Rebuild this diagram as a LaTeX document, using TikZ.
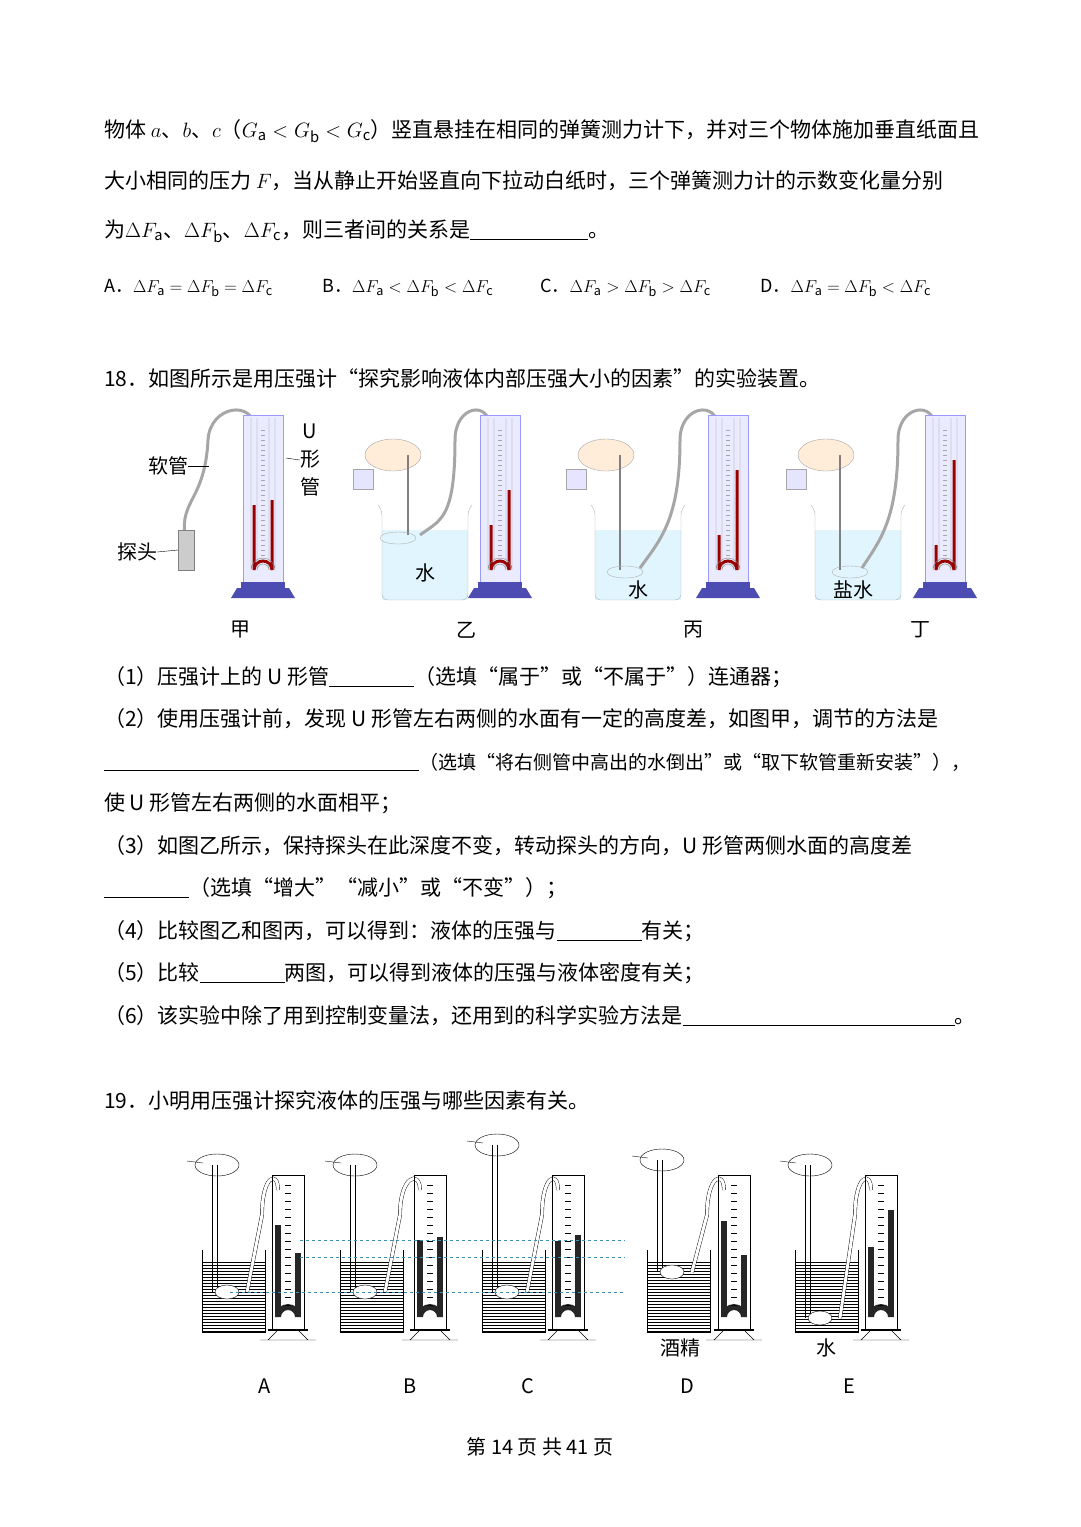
\documentclass[tikz,border=0pt]{standalone}
\usepackage{fontspec}
\setmainfont{Noto Sans CJK SC}
\usepackage{tikz}
\usetikzlibrary{patterns}

\tikzset{
  txt/.style={anchor=west,inner sep=0pt,font=\fontsize{21}{24}\selectfont},
  opt/.style={anchor=west,inner sep=0pt,font=\fontsize{18}{22}\selectfont},
  lab/.style={inner sep=0pt,font=\fontsize{20}{24}\selectfont},
  hose/.style={line width=3pt,gray!70},
  pics/utube/.style 2 args={code={
    \fill[blue!8] (-20,-165) rectangle (20,2);
    \draw[blue!40] (-20,-165) rectangle (20,2);
    \foreach \t in {-150,-145,...,-20} \draw[gray!70] (-2,\t) -- (2,\t);
    \draw[red!60!black,line width=3pt] (-9,#1) -- (-9,-10) arc (180:360:9) -- (9,#2);
    \draw[gray] (-12,-162) -- (-12,-10) arc (180:360:12) -- (12,-162);
    \draw[gray] (-6,-162) -- (-6,-10) arc (180:360:6) -- (6,-162);
    \fill[blue!40!gray] (-22,2) rectangle (22,8);
    \fill[gray!60!blue] (-26,8) -- (26,8) -- (32,18) -- (-32,18) -- cycle;
  }},
  pics/beaker/.style={code={
    \fill[cyan!12] (0,25) rectangle (86,95);
    \draw[gray!60,rounded corners=6pt] (-4,0) -- (0,4) -- (0,95) -- (86,95) -- (86,4) -- (90,0);
  }},
  pics/hand/.style={code={
    \fill[orange!15] (0,0) ellipse (28 and 16);
    \draw[gray!70] (0,0) ellipse (28 and 16);
    \fill[blue!10] (-40,14) rectangle (-20,34);
    \draw[gray!70] (-40,14) rectangle (-20,34);
  }},
  pics/dtube/.style 2 args={code={
    \fill[black!85] (-13,#1) rectangle (-7,-8);
    \fill[black!85] (7,#2) rectangle (13,-8);
    \fill[black!85] (-13,-8) arc (180:360:13) -- (7,-8) arc (0:-180:7) -- cycle;
    \draw[black] (-16,-150) rectangle (16,5);
    \foreach \t in {-140,-132,...,-20} \draw (-3,\t) -- (3,\t);
    \draw[line width=2pt] (-20,5) -- (20,5);
    \draw (-10,5) -- (-20,15) (10,5) -- (20,15) (-28,15) -- (28,15);
  }},
  pics/dbeaker/.style={code={
    \fill[pattern=horizontal lines] (0,12) rectangle (63,82);
    \draw (0,0) -- (0,82) -- (63,82) -- (63,0);
  }},
  pics/dhand/.style={code={
    \draw[fill=white] (0,0) ellipse (22 and 11);
    \draw (-30,-4) -- (-14,-2);
  }}
}

\begin{document}
\begin{tikzpicture}[x=1pt,y=-1pt]
\useasboundingbox (0,0) rectangle (1080,1527);

% question 17 end
\node[txt] (l1) at (104,131) {物体 $a$、$b$、$c$（$G_\mathrm{a}<G_\mathrm{b}<G_\mathrm{c}$）竖直悬挂在相同的弹簧测力计下，并对三个物体施加垂直纸面且};
\node[txt] (l2) at (104,181) {大小相同的压力 $F$，当从静止开始竖直向下拉动白纸时，三个弹簧测力计的示数变化量分别};
\node[txt] (l3) at (104,231) {为$\Delta F_\mathrm{a}$、$\Delta F_\mathrm{b}$、$\Delta F_\mathrm{c}$，则三者间的关系是\underline{\hspace{118pt}}。};
\node[opt] (oa) at (104,288) {A．$\Delta F_\mathrm{a}=\Delta F_\mathrm{b}=\Delta F_\mathrm{c}$};
\node[opt] (ob) at (322,288) {B．$\Delta F_\mathrm{a}<\Delta F_\mathrm{b}<\Delta F_\mathrm{c}$};
\node[opt] (oc) at (540,288) {C．$\Delta F_\mathrm{a}>\Delta F_\mathrm{b}>\Delta F_\mathrm{c}$};
\node[opt] (od) at (760,288) {D．$\Delta F_\mathrm{a}=\Delta F_\mathrm{b}<\Delta F_\mathrm{c}$};

% question 18
\node[txt] (q18) at (104,379) {18．如图所示是用压强计“探究影响液体内部压强大小的因素”的实验装置。};

% jia
\draw[hose] (254,428) .. controls (254,400) and (210,405) .. (208,440) .. controls (205,500) and (180,500) .. (185,535);
\pic at (263,580) {utube={-75}{-80}};
\fill[gray!40] (178,530) rectangle (194,570);
\draw[gray] (178,530) rectangle (194,570);
\node[lab] (ruan) at (168,466) {软管};
\node[lab] (tan) at (137,552) {探头};
\coordinate (ruanE) at (209,466);
\coordinate (tanE) at (178,550);
\draw (ruan.east) -- (ruanE);
\draw (tan.east) -- (tanE);
\node[lab,align=center] (ux) at (310,460) {U\\[4pt]形\\[4pt]管};
\coordinate (uxW) at (286,458);
\draw (ux.west) -- (uxW);
\node[lab] (jia) at (240,630) {甲};

% yi
\pic at (382,505) {beaker};
\pic at (393,455) {hand};
\draw[gray,line width=2pt] (408,455) -- (408,535);
\draw[gray!60] (398,538) ellipse (18 and 6);
\draw[hose] (490,428) .. controls (490,400) and (455,405) .. (455,440) .. controls (455,520) and (440,520) .. (420,535);
\pic at (500,580) {utube={-55}{-90}};
\node[lab] (shui1) at (425,573) {水};
\node[lab] (yi) at (466,630) {乙};

% bing
\pic at (595,505) {beaker};
\pic at (606,455) {hand};
\draw[gray,line width=2pt] (620,455) -- (620,570);
\draw[gray!60] (625,572) ellipse (18 and 6);
\draw[hose] (718,428) .. controls (718,400) and (680,405) .. (680,440) .. controls (680,520) and (660,540) .. (640,568);
\pic at (728,580) {utube={-45}{-110}};
\node[lab] (shui2) at (638,590) {水};
\node[lab] (bing) at (693,630) {丙};

% ding
\pic at (815,505) {beaker};
\pic at (826,455) {hand};
\draw[gray,line width=2pt] (840,455) -- (840,570);
\draw[gray!60] (850,572) ellipse (18 and 6);
\draw[hose] (935,428) .. controls (935,400) and (898,405) .. (898,440) .. controls (898,520) and (880,540) .. (862,568);
\pic at (945,580) {utube={-35}{-120}};
\node[lab] (yan) at (853,590) {盐水};
\node[lab] (ding) at (920,630) {丁};

\node[txt] (p1) at (104,677) {（1）压强计上的 U 形管\underline{\hspace{85pt}}（选填“属于”或“不属于”）连通器；};
\node[txt] (p2) at (104,719) {（2）使用压强计前，发现 U 形管左右两侧的水面有一定的高度差，如图甲，调节的方法是};
\node[txt] (p2b) at (104,762) {\underline{\hspace{315pt}}{\fontsize{19}{22}\selectfont（选填“将右侧管中高出的水倒出”或“取下软管重新安装”），}};
\node[txt] (p2c) at (104,803) {使 U 形管左右两侧的水面相平；};
\node[txt] (p3) at (104,846) {（3）如图乙所示，保持探头在此深度不变，转动探头的方向，U 形管两侧水面的高度差};
\node[txt] (p3b) at (104,888) {\underline{\hspace{85pt}}（选填“增大”“减小”或“不变”）；};
\node[txt] (p4) at (104,931) {（4）比较图乙和图丙，可以得到：液体的压强与\underline{\hspace{85pt}}有关；};
\node[txt] (p5) at (104,973) {（5）比较\underline{\hspace{85pt}}两图，可以得到液体的压强与液体密度有关；};
\node[txt] (p6) at (104,1016) {（6）该实验中除了用到控制变量法，还用到的科学实验方法是\underline{\hspace{272pt}}。};

% question 19
\node[txt] (q19) at (104,1101) {19．小明用压强计探究液体的压强与哪些因素有关。};

\foreach \bx/\mx/\hy/\py/\lv/\rv in {202/288/1165/1292/-100/-72, 340/430/1165/1292/-85/-88, 482/568/1145/1292/-84/-90, 647/734/1160/1272/-104/-70, 795/881/1165/1318/-78/-115}{
  \pic at (\bx,1250) {dbeaker};
  \pic at (\bx+15,\hy) {dhand};
  \draw (\bx+10,\hy) -- (\bx+10,\py) (\bx+15,\hy) -- (\bx+15,\py);
  \draw[fill=white] (\bx+25,\py) ellipse (12 and 7);
  \draw[double,double distance=3pt] (\mx-10,1190) .. controls (\mx-10,1170) and (\bx+60,1175) .. (\bx+60,1215) -- (\bx+45,\py);
  \pic at (\mx,1325) {dtube={\lv}{\rv}};
}
\draw[dashed,cyan!70!black] (300,1240) -- (625,1240);
\draw[dashed,cyan!70!black] (300,1257) -- (625,1257);
\draw[dashed,cyan!70!black] (230,1292) -- (625,1292);
\node[lab] (jj) at (680,1348) {酒精};
\node[lab] (sh) at (826,1348) {水};
\node[lab] (la) at (265,1386) {A};
\node[lab] (lb) at (410,1386) {B};
\node[lab] (lc) at (528,1386) {C};
\node[lab] (ld) at (687,1386) {D};
\node[lab] (le) at (849,1386) {E};

\node[lab] (foot) at (540,1447) {第 14 页 共 41 页};
\end{tikzpicture}
\end{document}
